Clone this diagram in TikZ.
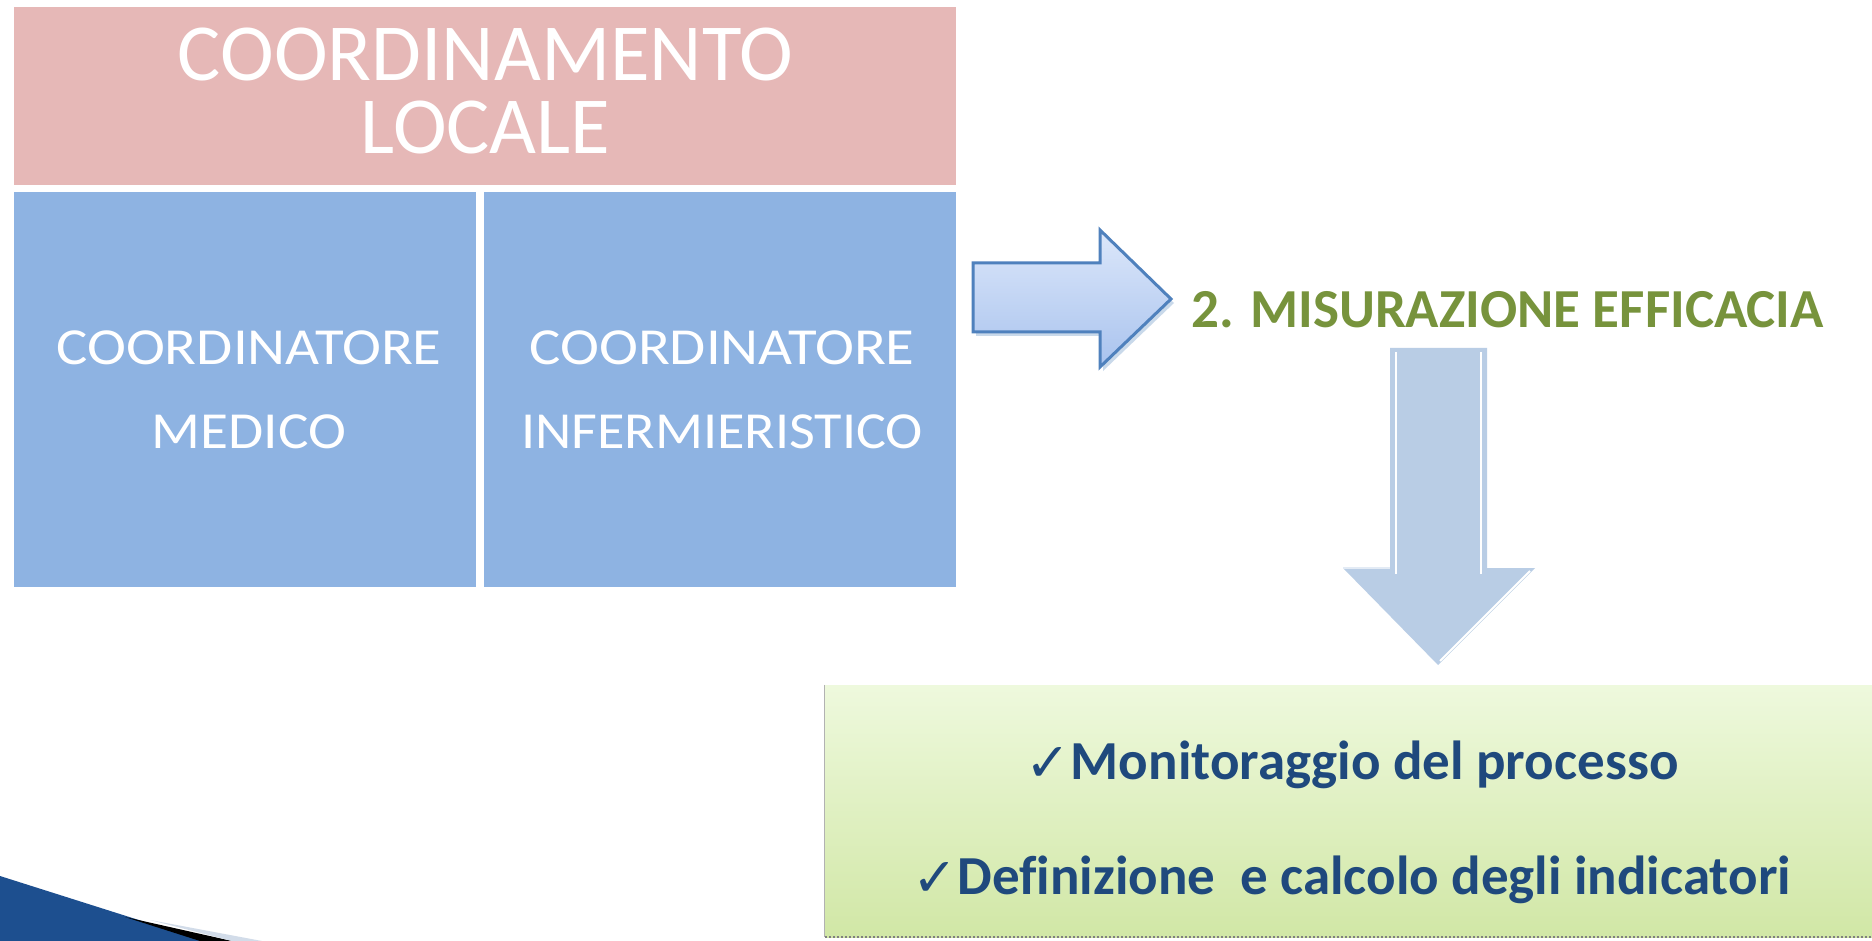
\documentclass[tikz,border=0pt]{standalone}
\usepackage{fontspec}
\usepackage{graphicx}
\setmainfont{Carlito}[Ligatures=NoCommon]
\newfontfamily\symfont{DejaVu Sans}
\definecolor{pinkfill}{HTML}{E6B8B7}
\definecolor{bluefill}{HTML}{8EB3E2}
\definecolor{arrowedge}{HTML}{4F81BD}
\definecolor{arrowtop}{HTML}{DCE7FA}
\definecolor{arrowbot}{HTML}{A9C3EE}
\definecolor{downfill}{HTML}{B9CDE5}
\definecolor{greentop}{HTML}{EEF9DD}
\definecolor{greenbot}{HTML}{D1E7A6}
\definecolor{olive}{HTML}{77933C}
\definecolor{navy}{HTML}{1F497D}
\definecolor{swoosh}{HTML}{1D4F8F}
\tikzset{
  pinkbox/.style={fill=pinkfill, draw=none, inner sep=0pt},
  bluebox/.style={fill=bluefill, draw=none, inner sep=0pt},
  greenbox/.style={top color=greentop, bottom color=greenbot, draw=none, inner sep=0pt},
  hdtext/.style={text=white, font=\fontsize{81}{96}\selectfont, inner sep=0pt, anchor=base},
  boxtext/.style={text=white, font=\fontsize{52}{60}\selectfont, inner sep=0pt, anchor=base},
  titletext/.style={text=olive, font=\bfseries\fontsize{55}{60}\selectfont, inner sep=0pt, anchor=base},
  itemtext/.style={text=navy, font=\bfseries\fontsize{55}{60}\selectfont, inner sep=0pt, anchor=base},
}
\newcommand{\chk}{{\symfont\fontsize{54}{54}\selectfont\raisebox{-2pt}{✓}}}
\begin{document}
\begin{tikzpicture}[x=1pt,y=-1pt]
\useasboundingbox (0,0) rectangle (1872,941);
\fill[white] (0,0) rectangle (1872,941);

% boxes
\node[pinkbox, minimum width=942pt, minimum height=178pt] (head) at (485,96) {};
\node[bluebox, minimum width=462pt, minimum height=395pt] (med) at (245,389.5) {};
\node[bluebox, minimum width=472pt, minimum height=395pt] (inf) at (720,389.5) {};

% texts
\node[hdtext] (h1) at (485.5,81) {COORDINAMENTO};
\node[hdtext] (h2) at (485.5,154) {LOCALE};
\node[boxtext] (m1) at (249,365) {\scalebox{1.13}[1]{COORDINATORE}};
\node[boxtext] (m2) at (249,448) {\scalebox{1.1}[1]{MEDICO}};
\node[boxtext] (i1) at (722,365) {\scalebox{1.13}[1]{COORDINATORE}};
\node[boxtext] (i2) at (722,448) {\scalebox{1.08}[1]{INFERMIERISTICO}};

% right arrow
\fill[arrowedge!60, opacity=0.5] (976,267) -- (1103,267) -- (1103,234) -- (1174,303) -- (1103,371) -- (1103,336) -- (976,336) -- cycle;
\draw[arrowedge, line width=3pt, line join=miter, top color=arrowtop, bottom color=arrowbot]
  (973,263) -- (1100,263) -- (1100,230) -- (1171,299) -- (1100,367) -- (1100,332) -- (973,332) -- cycle;

% title
\node[titletext] (title) at (1507.5,327) {2. MISURAZIONE EFFICACIA};

% down arrow
\fill[downfill] (1390,348) -- (1487,348) -- (1487,568) -- (1535,568) -- (1438,665) -- (1343,568) -- (1390,568) -- cycle;
\draw[white, line width=2pt] (1396,352) -- (1396,574);
\draw[white, line width=2pt] (1481,352) -- (1481,574);
\draw[white, line width=2pt] (1530,571) -- (1440,661);
\draw[white!60!downfill, line width=1.5pt] (1343,568) -- (1390,568);

% green box
\node[greenbox, minimum width=1047pt, minimum height=252pt] (res) at (1348.5,811) {};
\draw[gray!60, line width=0.8pt] (res.north west) -- (res.south west);
\draw[gray, line width=2pt, dotted] (res.south west) -- (res.south east);

\node[itemtext] (l1) at (1352,779) {\chk Monitoraggio del processo};
\node[itemtext] (l2) at (1351.5,894) {\chk Definizione\ \ e calcolo degli indicatori};

% bottom-left decoration
\fill[swoosh] (0,876) -- (205,941) -- (0,941) -- cycle;
\fill[black] (125,917) -- (232,941) -- (200,941) -- cycle;
\fill[swoosh!20] (150,920) -- (262,941) -- (232,941) -- cycle;
\end{tikzpicture}
\end{document}
